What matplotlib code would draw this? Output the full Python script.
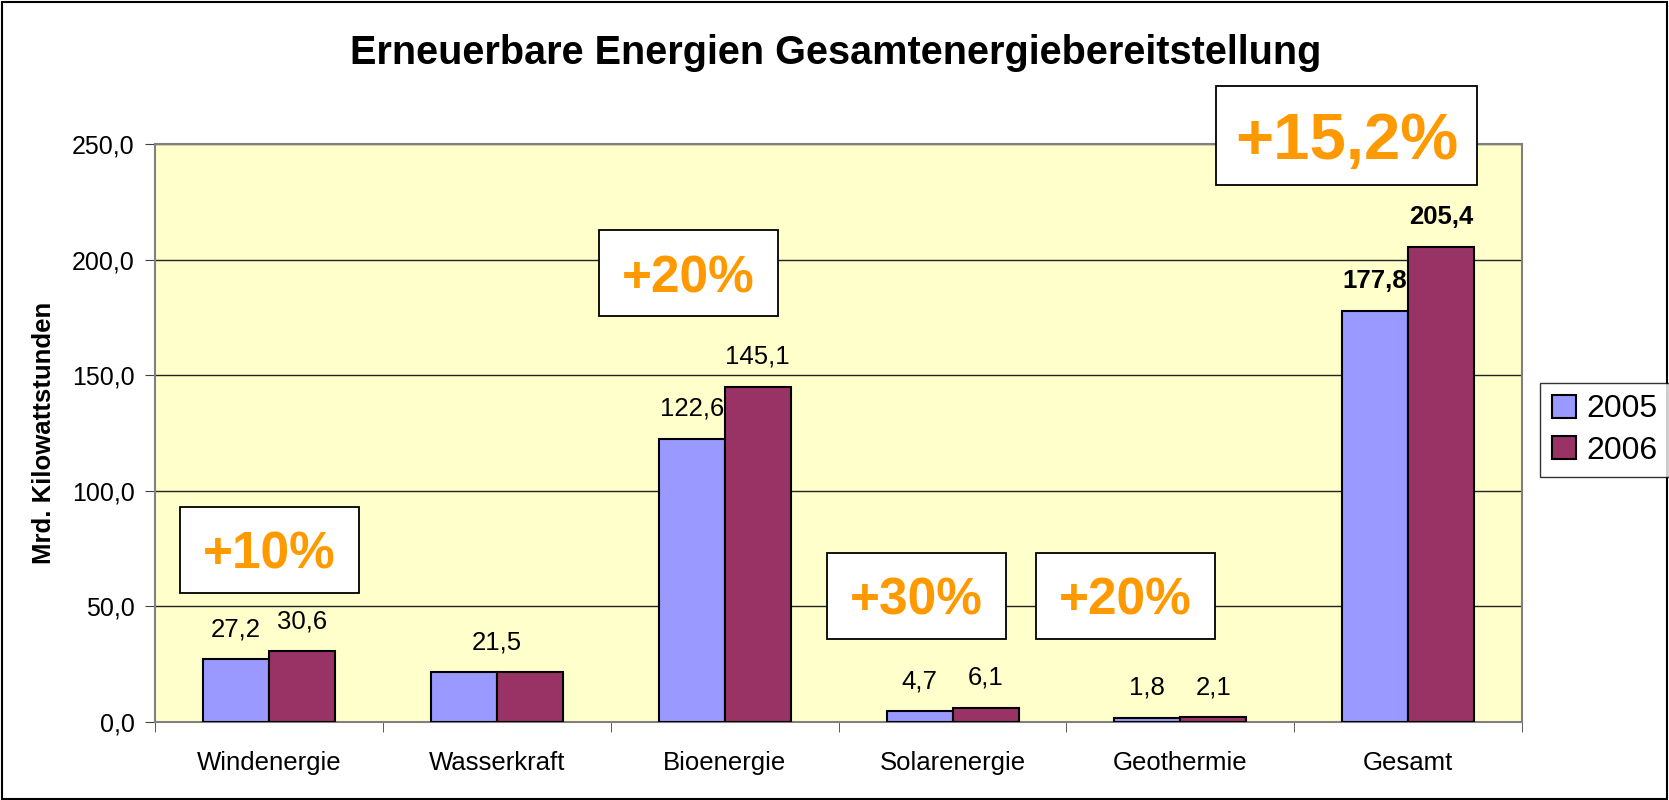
import numpy as np
import matplotlib.pyplot as plt
from matplotlib.patches import Rectangle

# data
categories = ['Windenergie', 'Wasserkraft', 'Bioenergie', 'Solarenergie', 'Geothermie', 'Gesamt']
values_2005 = [27.2, 21.5, 122.6, 4.7, 1.8, 177.8]
values_2006 = [30.6, 21.5, 145.1, 6.1, 2.1, 205.4]
years = ['2005', '2006']
growth_labels = ['+10%', '+20%', '+30%', '+20%', '+15,2%']
growth_pos = [(0.0, 74.5), (1.84, 194.0), (2.84, 54.7), (3.76, 54.7), (4.73, 253.7)]

plt.rcParams['font.family'] = ['Liberation Sans', 'DejaVu Sans']


def fmt(v):
    return ('%.1f' % v).replace('.', ',')


fig = plt.figure(figsize=(16.69, 8), dpi=100)
ax = fig.add_axes([0.093, 0.0975, 0.819, 0.7225])
ax.set_facecolor('#FFFFCC')

x = np.arange(len(categories))
w = 0.29
b1 = ax.bar(x - w / 2, values_2005, w, color='#9999FF', edgecolor='black', linewidth=1.5, label=years[0], zorder=3)
b2 = ax.bar(x + w / 2, values_2006, w, color='#993366', edgecolor='black', linewidth=1.5, label=years[1], zorder=3)

# value labels, the last group in bold
for i in range(len(categories)):
    weight = 'bold' if i == len(categories) - 1 else 'normal'
    if values_2005[i] == values_2006[i]:
        ax.annotate(fmt(values_2005[i]), (x[i], values_2005[i]), xytext=(0, 13), textcoords='offset points',
                    ha='center', va='bottom', fontsize=18.5, fontweight=weight)
        continue
    ax.annotate(fmt(values_2005[i]), (x[i] - w / 2, values_2005[i]), xytext=(0, 13), textcoords='offset points',
                ha='center', va='bottom', fontsize=18.5, fontweight=weight)
    ax.annotate(fmt(values_2006[i]), (x[i] + w / 2, values_2006[i]), xytext=(0, 13), textcoords='offset points',
                ha='center', va='bottom', fontsize=18.5, fontweight=weight)

ax.set_xlim(-0.5, len(categories) - 0.5)
ax.set_ylim(0, 250)
ax.set_yticks(np.arange(0, 251, 50))
ax.set_yticklabels([fmt(v) for v in np.arange(0, 251, 50)], fontsize=18)
ax.set_xticks(x)
ax.set_xticklabels(categories, fontsize=18.5)
ax.set_xticks(np.arange(-0.5, len(categories), 1), minor=True)
ax.tick_params(axis='x', which='major', length=0, pad=21)
ax.tick_params(axis='x', which='minor', length=7, color='#404040', direction='out')
ax.tick_params(axis='y', length=7, color='#404040', direction='out', pad=8)
ax.yaxis.grid(True, color='#222222', linewidth=1)
ax.set_axisbelow(True)
for s in ax.spines.values():
    s.set_color('#808080')
    s.set_linewidth(1.5)
ax.set_ylabel('Mrd. Kilowattstunden', fontsize=18.5, fontweight='bold', labelpad=11)

# growth boxes
for lab, (cx, cy) in zip(growth_labels, growth_pos):
    big = lab == '+15,2%'
    bw, bh = (1.145, 42.7) if big else (0.785, 37.2)
    ax.add_patch(Rectangle((cx - bw / 2, cy - bh / 2), bw, bh, facecolor='white', edgecolor='black',
                           linewidth=1.3, zorder=5, clip_on=False))
    ax.text(cx, cy, lab, ha='center', va='center_baseline', fontsize=47 if big else 37,
            fontweight='bold', color='#FF9900', zorder=6, clip_on=False)

fig.text(0.501, 0.934, 'Erneuerbare Energien Gesamtenergiebereitstellung', ha='center', va='center',
         fontsize=28.5, fontweight='bold')

leg = fig.legend(handles=[b1, b2], labels=years, loc='center', bbox_to_anchor=(0.9615, 0.4625), fontsize=23,
                 frameon=True, fancybox=False, edgecolor='black', handlelength=0.75, handleheight=0.75,
                 handletextpad=0.35, borderpad=0.35, labelspacing=0.35)
leg.get_frame().set_linewidth(1)

fig.add_artist(Rectangle((0.001, 0.001), 0.998, 0.997, transform=fig.transFigure, fill=False,
                         edgecolor='black', linewidth=1.5))

fig.savefig('out.png', dpi=100)
